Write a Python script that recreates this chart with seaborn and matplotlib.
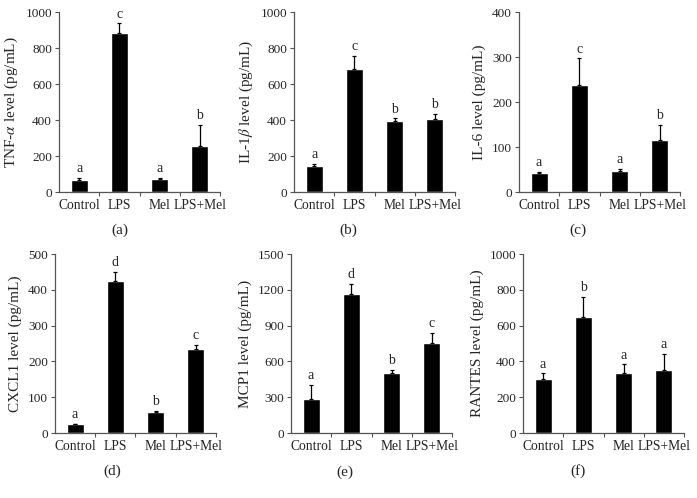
import matplotlib
matplotlib.use('Agg')
import matplotlib.pyplot as plt
import seaborn as sns
import numpy as np
import pandas as pd

groups = ['Control', 'LPS', 'Mel', 'LPS+Mel']

tnf_mean = [67, 881, 74, 257]
tnf_err = [13, 56, 4, 117]
tnf_sig = ['a', 'c', 'a', 'b']

il1_mean = [143, 683, 397, 405]
il1_err = [12, 73, 12, 27]
il1_sig = ['a', 'c', 'b', 'b']

il6_mean = [43, 237, 47, 116]
il6_err = [1, 60, 4, 34]
il6_sig = ['a', 'c', 'a', 'b']

cxcl1_mean = [24, 425, 59, 235]
cxcl1_err = [2, 25, 3, 12]
cxcl1_sig = ['a', 'd', 'b', 'c']

mcp1_mean = [287, 1162, 500, 754]
mcp1_err = [113, 86, 28, 84]
mcp1_sig = ['a', 'd', 'b', 'c']

rantes_mean = [302, 648, 337, 352]
rantes_err = [31, 111, 46, 88]
rantes_sig = ['a', 'b', 'a', 'a']

panels = [
    (tnf_mean, tnf_err, tnf_sig, r'TNF-$\alpha$ level (pg/mL)', 1000, 200, '(a)'),
    (il1_mean, il1_err, il1_sig, r'IL-1$\beta$ level (pg/mL)', 1000, 200, '(b)'),
    (il6_mean, il6_err, il6_sig, 'IL-6 level (pg/mL)', 400, 100, '(c)'),
    (cxcl1_mean, cxcl1_err, cxcl1_sig, 'CXCL1 level (pg/mL)', 500, 100, '(d)'),
    (mcp1_mean, mcp1_err, mcp1_sig, 'MCP1 level (pg/mL)', 1500, 300, '(e)'),
    (rantes_mean, rantes_err, rantes_sig, 'RANTES level (pg/mL)', 1000, 200, '(f)'),
]

sns.set_style('ticks')
plt.rcParams['font.family'] = ['Liberation Serif', 'DejaVu Serif']
plt.rcParams['mathtext.fontset'] = 'stix'
plt.rcParams['font.size'] = 10

W, H = 697, 498
fig = plt.figure(figsize=(W / 100, H / 100), dpi=100)

# axes boxes in pixels: left, top(of ymax), bottom(of 0)
boxes = [(59, 12, 192), (294, 12, 192), (519, 12, 192),
         (55, 254, 433), (291, 254, 433), (523, 254, 433)]
sub_pos = [(120, 230), (348, 230), (578, 230), (112, 471), (345, 472), (578, 471)]
axw = 161
spine_col = '#555555'

for (mean, err, sig, ylab, ymax, step, tag), (l, t, b), (sx, sy) in zip(panels, boxes, sub_pos):
    ax = fig.add_axes([l / W, (H - b) / H, axw / W, (b - t) / H])
    df = pd.DataFrame({'group': groups, 'value': mean})
    sns.barplot(data=df, x='group', y='value', color='black', width=0.42,
                saturation=1, ax=ax, errorbar=None)
    ax.errorbar(range(4), mean, yerr=[np.zeros(4), err], fmt='none',
                ecolor='black', elinewidth=0.9, capsize=1.6, capthick=0.9)
    for i, s in enumerate(sig):
        ax.annotate(s, (i, mean[i] + err[i]), xytext=(0, 2),
                    textcoords='offset points', ha='center', va='bottom',
                    fontsize=10)
    ax.set_xlim(-0.5, 3.5)
    ax.set_ylim(0, ymax)
    ax.set_yticks(np.arange(0, ymax + 1, step))
    ax.set_xticks(range(4))
    ax.set_xticklabels(groups)
    ax.set_xticks([0.5, 1.5, 2.5, 3.5], minor=True)
    ax.tick_params(axis='x', which='major', length=0, pad=5, labelsize=9.8)
    ax.tick_params(axis='x', which='minor', length=3, width=0.8, color=spine_col)
    ax.tick_params(axis='y', length=3, width=0.8, color=spine_col, labelsize=9.5, pad=2)
    ax.set_xlabel('')
    ax.set_ylabel(ylab, fontsize=11, labelpad=4)
    sns.despine(ax=ax)
    for side in ['left', 'bottom']:
        ax.spines[side].set_color(spine_col)
        ax.spines[side].set_linewidth(0.9)
    fig.text(sx / W, (H - sy) / H, tag, ha='center', va='center', fontsize=11)

plt.savefig('out.png', dpi=100)
